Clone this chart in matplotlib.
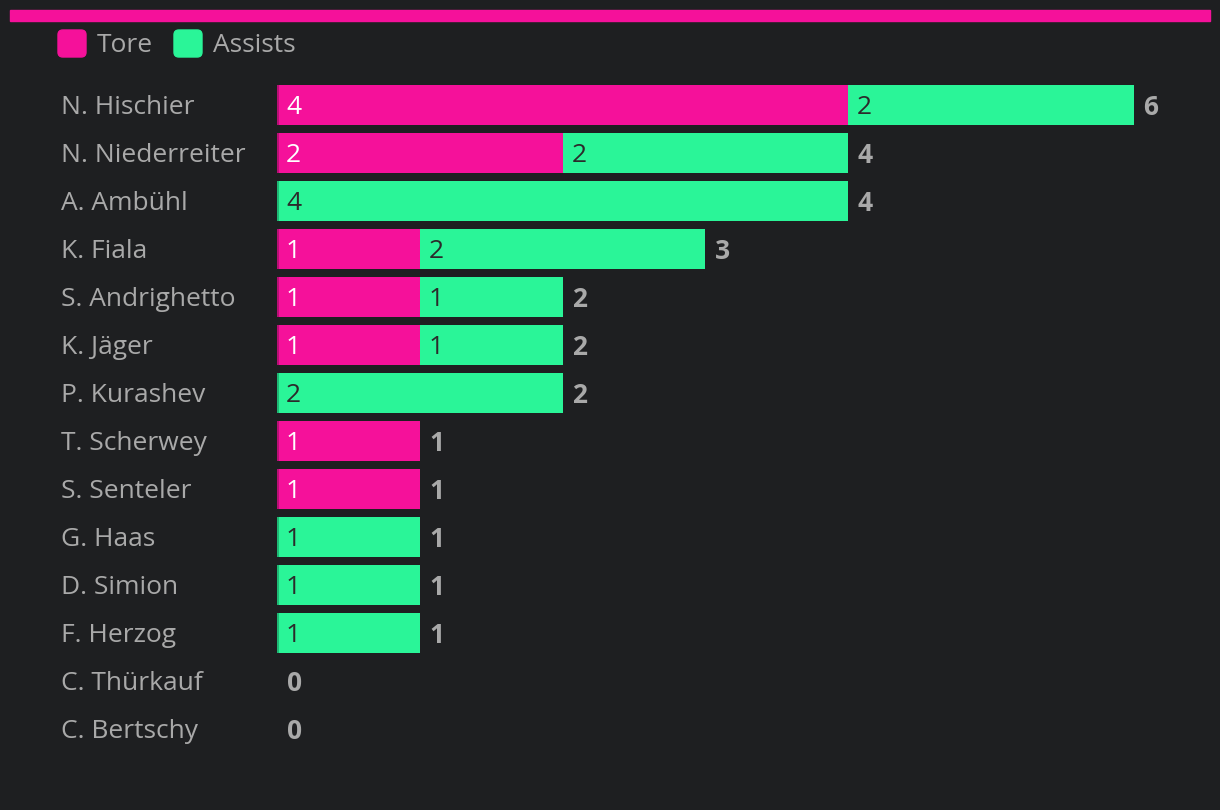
import numpy as np
import matplotlib.pyplot as plt
from matplotlib.patches import FancyBboxPatch, Rectangle

# Daten
spieler = ["N. Hischier", "N. Niederreiter", "A. Ambühl", "K. Fiala", "S. Andrighetto",
           "K. Jäger", "P. Kurashev", "T. Scherwey", "S. Senteler", "G. Haas",
           "D. Simion", "F. Herzog", "C. Thürkauf", "C. Bertschy"]
tore = [4, 2, 0, 1, 1, 1, 0, 1, 1, 0, 0, 0, 0, 0]
assists = [2, 2, 4, 2, 1, 1, 2, 0, 0, 1, 1, 1, 0, 0]
serien = ["Tore", "Assists"]

bg = "#1e1f21"
pink = "#f5119a"
gruen = "#2af598"
grau = "#a9a9a9"

plt.rcParams['font.family'] = ['Open Sans', 'DejaVu Sans']
fs = 19

fig = plt.figure(figsize=(12.2, 8.1), dpi=100)
fig.patch.set_facecolor(bg)

W, H = 1220, 810
ax = fig.add_axes([277 / W, 1 - 753 / H, 856.5 / W, 672 / H])
ax.set_facecolor(bg)
ax.set_xlim(0, 6)
ax.set_ylim(len(spieler) - 0.5, -0.5)
ax.axis('off')

y = np.arange(len(spieler))
tore = np.array(tore)
assists = np.array(assists)
gesamt = tore + assists

ax.barh(y, tore, height=0.83, color=pink, linewidth=0)
ax.barh(y, assists, left=tore, height=0.83, color=gruen, linewidth=0)

# dunkle Kante links
for i in range(len(spieler)):
    if gesamt[i] > 0:
        farbe = "#b80f75" if tore[i] > 0 else "#1fb874"
        ax.barh(y[i], 0.014, height=0.83, color=farbe, linewidth=0)

# Beschriftungen
dy = -2  # Text etwas tiefer
for i in range(len(spieler)):
    ax.annotate(spieler[i], xy=(0, y[i]), xycoords=('axes fraction', 'data'),
                xytext=(-216, dy), textcoords='offset pixels', fontsize=fs,
                color=grau, va='center', ha='left')
    if tore[i] > 0:
        ax.annotate(str(tore[i]), xy=(0, y[i]), xytext=(9, dy), textcoords='offset pixels',
                    fontsize=fs, color='white', va='center', ha='left')
    if assists[i] > 0:
        ax.annotate(str(assists[i]), xy=(tore[i], y[i]), xytext=(9, dy),
                    textcoords='offset pixels', fontsize=fs, color='#2b2b2b',
                    va='center', ha='left')
    ax.annotate(str(gesamt[i]), xy=(gesamt[i], y[i]), xytext=(10, dy),
                textcoords='offset pixels', fontsize=fs, color=grau,
                fontweight='bold', va='center', ha='left', annotation_clip=False)

# Balken oben
fig.patches.append(Rectangle((10 / W, 1 - 21 / H), 1200 / W, 11 / H, color=pink,
                             transform=fig.transFigure, figure=fig))

# Legende
for x0, farbe, name in [(58, pink, serien[0]), (174, gruen, serien[1])]:
    fig.patches.append(FancyBboxPatch((x0 / W, 1 - 57 / H), 28 / W, 27 / H,
                                      boxstyle="round,pad=0,rounding_size=0.004",
                                      color=farbe, transform=fig.transFigure, figure=fig,
                                      mutation_aspect=W / H))
    fig.text((x0 + 39) / W, 1 - 45 / H, name, fontsize=fs, color=grau,
             va='center', ha='left')

plt.savefig("out.png", dpi=100, facecolor=bg)
